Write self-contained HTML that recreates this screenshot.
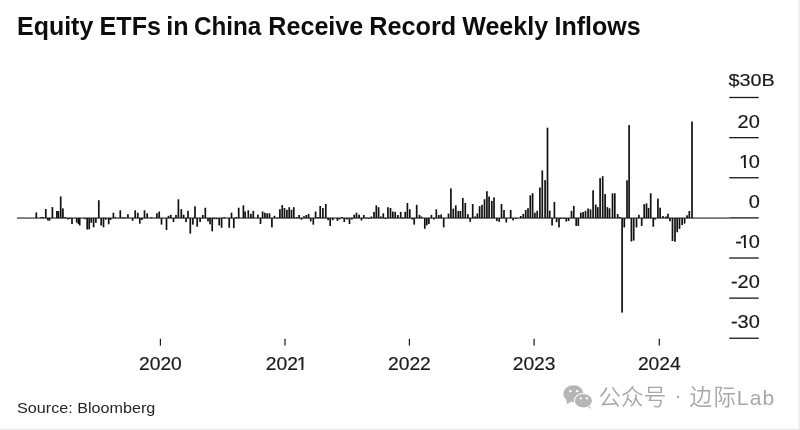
<!DOCTYPE html>
<html><head><meta charset="utf-8">
<style>
html,body{margin:0;padding:0;background:#fff;}
body{width:800px;height:430px;overflow:hidden;position:relative;}
svg{position:absolute;left:0;top:0;display:block;filter:blur(0.4px);}
.t{font-family:"Liberation Sans",Arial,sans-serif;}
.c{font-family:"Liberation Sans","Noto Sans CJK SC",sans-serif;}
</style></head><body>
<svg width="800" height="430" viewBox="0 0 800 430">
<defs>
<clipPath id="nofoot" clipPathUnits="userSpaceOnUse">
<rect x="-5" y="-20" width="20" height="17.75"/>
<rect x="4.32" y="-2.6" width="1.7" height="3.6"/>
</clipPath>
</defs>
<rect x="0" y="0" width="800" height="430" fill="#fff"/>
<g class="t" font-size="25" font-weight="bold" fill="#0d0d0d">
<text transform="translate(17.04,34.5) scale(0.9981,1)">Equity</text>
<text transform="translate(99.58,34.5) scale(1.0040,1)">ETFs</text>
<text transform="translate(166.33,34.5) scale(1.0052,1)">in</text>
<text transform="translate(193.92,34.5) scale(0.9716,1)">China</text>
<text transform="translate(268.33,34.5) scale(1.0051,1)">Receive</text>
<text transform="translate(369.22,34.5) scale(1.0101,1)">Record</text>
<text transform="translate(462.20,34.5) scale(1.0031,1)">Weekly</text>
<text transform="translate(554.43,34.5) scale(1.0022,1)">Inflows</text>
</g>
<g class="t" font-size="17.5" fill="#1a1a1a" stroke="#1a1a1a" stroke-width="0.18">
<text transform="translate(728.6,86.4) scale(1.15,1)" font-size="17.2">$30B</text>
<rect x="729.2" y="96.85" width="29.5" height="1.3" stroke="none"/>
<text transform="translate(759.80,127.65) scale(1.14,1)" text-anchor="end">20</text>
<rect x="729.2" y="137.00" width="29.5" height="1.3" stroke="none"/>
<text transform="translate(759.80,167.77) scale(1.14,1)" text-anchor="end">0</text>
<text transform="translate(739.10,167.77) scale(1.14,1)" clip-path="url(#nofoot)">1</text>
<rect x="729.2" y="177.12" width="29.5" height="1.3" stroke="none"/>
<text transform="translate(759.80,207.89) scale(1.14,1)" text-anchor="end">0</text>
<rect x="729.2" y="217.24" width="29.5" height="1.3" stroke="none"/>
<text transform="translate(759.80,248.01) scale(1.14,1)" text-anchor="end">0</text>
<text transform="translate(739.10,248.01) scale(1.14,1)" clip-path="url(#nofoot)">1</text>
<text transform="translate(735.30,248.01) scale(1.14,1)">-</text>
<rect x="729.2" y="257.36" width="29.5" height="1.3" stroke="none"/>
<text transform="translate(759.80,288.13) scale(1.14,1)" text-anchor="end">-20</text>
<rect x="729.2" y="297.48" width="29.5" height="1.3" stroke="none"/>
<text transform="translate(759.80,328.25) scale(1.14,1)" text-anchor="end">-30</text>
<rect x="729.2" y="337.60" width="29.5" height="1.3" stroke="none"/>

<rect x="159.80" y="338.8" width="1.2" height="6.8" stroke="none"/>
<text transform="translate(160.40,370.00) scale(1.1,1)" text-anchor="middle">2020</text>
<rect x="284.40" y="338.8" width="1.2" height="6.8" stroke="none"/>
<text transform="translate(265.80,370.00) scale(1.1,1)">202</text>
<text transform="translate(296.70,370.00) scale(1.1,1)" clip-path="url(#nofoot)">1</text>
<rect x="408.80" y="338.8" width="1.2" height="6.8" stroke="none"/>
<text transform="translate(409.40,370.00) scale(1.1,1)" text-anchor="middle">2022</text>
<rect x="533.50" y="338.8" width="1.2" height="6.8" stroke="none"/>
<text transform="translate(534.10,370.00) scale(1.1,1)" text-anchor="middle">2023</text>
<rect x="658.70" y="338.8" width="1.2" height="6.8" stroke="none"/>
<text transform="translate(659.30,370.00) scale(1.1,1)" text-anchor="middle">2024</text>

</g>
<rect x="17" y="217.45" width="712" height="1.2" fill="#333"/>
<g fill="#111">
<rect x="35.45" y="212.40" width="1.7" height="5.65"/>
<rect x="40.35" y="217.20" width="1.7" height="0.85"/>
<rect x="42.05" y="217.00" width="1.7" height="1.05"/>
<rect x="44.95" y="209.00" width="1.7" height="9.05"/>
<rect x="47.05" y="218.05" width="1.7" height="2.45"/>
<rect x="48.65" y="218.05" width="1.7" height="2.65"/>
<rect x="51.55" y="207.10" width="1.7" height="10.95"/>
<rect x="56.05" y="211.00" width="1.7" height="7.05"/>
<rect x="57.55" y="211.00" width="1.7" height="7.05"/>
<rect x="59.85" y="196.40" width="1.7" height="21.65"/>
<rect x="62.05" y="208.40" width="1.7" height="9.65"/>
<rect x="64.35" y="217.00" width="1.7" height="1.05"/>
<rect x="67.05" y="218.05" width="1.7" height="1.45"/>
<rect x="69.15" y="218.05" width="1.7" height="0.95"/>
<rect x="71.15" y="218.05" width="1.7" height="5.95"/>
<rect x="75.85" y="218.05" width="1.7" height="4.55"/>
<rect x="77.65" y="218.05" width="1.7" height="5.95"/>
<rect x="78.85" y="218.05" width="1.7" height="7.45"/>
<rect x="84.05" y="218.05" width="1.7" height="1.15"/>
<rect x="86.35" y="218.05" width="1.7" height="11.45"/>
<rect x="88.35" y="218.05" width="1.7" height="11.25"/>
<rect x="90.45" y="218.05" width="1.7" height="4.75"/>
<rect x="92.75" y="218.05" width="1.7" height="9.25"/>
<rect x="95.05" y="218.05" width="1.7" height="4.75"/>
<rect x="97.95" y="200.20" width="1.7" height="17.85"/>
<rect x="100.35" y="218.05" width="1.7" height="7.45"/>
<rect x="102.65" y="218.05" width="1.7" height="9.25"/>
<rect x="104.95" y="218.05" width="1.7" height="1.65"/>
<rect x="107.85" y="218.05" width="1.7" height="6.25"/>
<rect x="109.65" y="218.05" width="1.7" height="1.95"/>
<rect x="112.55" y="212.70" width="1.7" height="5.35"/>
<rect x="114.65" y="217.30" width="1.7" height="0.80"/>
<rect x="119.45" y="210.30" width="1.7" height="7.75"/>
<rect x="121.85" y="217.30" width="1.7" height="0.80"/>
<rect x="124.15" y="217.30" width="1.7" height="0.80"/>
<rect x="127.05" y="214.20" width="1.7" height="3.85"/>
<rect x="131.75" y="218.05" width="1.7" height="2.75"/>
<rect x="134.35" y="210.30" width="1.7" height="7.75"/>
<rect x="136.95" y="212.70" width="1.7" height="5.35"/>
<rect x="138.95" y="218.05" width="1.7" height="5.65"/>
<rect x="141.05" y="218.05" width="1.7" height="1.95"/>
<rect x="143.65" y="210.30" width="1.7" height="7.75"/>
<rect x="146.35" y="213.30" width="1.7" height="4.75"/>
<rect x="150.75" y="217.30" width="1.7" height="0.80"/>
<rect x="156.05" y="213.30" width="1.7" height="4.75"/>
<rect x="158.35" y="211.50" width="1.7" height="6.55"/>
<rect x="160.65" y="218.05" width="1.7" height="6.55"/>
<rect x="165.65" y="218.05" width="1.7" height="11.95"/>
<rect x="167.65" y="215.80" width="1.7" height="2.25"/>
<rect x="169.95" y="214.80" width="1.7" height="3.25"/>
<rect x="172.65" y="218.05" width="1.7" height="3.95"/>
<rect x="175.15" y="215.00" width="1.7" height="3.05"/>
<rect x="177.55" y="199.30" width="1.7" height="18.75"/>
<rect x="180.45" y="209.20" width="1.7" height="8.85"/>
<rect x="182.75" y="214.70" width="1.7" height="3.35"/>
<rect x="185.15" y="218.05" width="1.7" height="3.95"/>
<rect x="187.15" y="210.90" width="1.7" height="7.15"/>
<rect x="189.45" y="218.05" width="1.7" height="15.55"/>
<rect x="192.05" y="218.05" width="1.7" height="6.55"/>
<rect x="194.15" y="206.30" width="1.7" height="11.75"/>
<rect x="196.35" y="218.05" width="1.7" height="8.65"/>
<rect x="199.25" y="218.05" width="1.7" height="3.95"/>
<rect x="201.95" y="215.00" width="1.7" height="3.05"/>
<rect x="204.45" y="207.80" width="1.7" height="10.25"/>
<rect x="207.15" y="218.05" width="1.7" height="3.35"/>
<rect x="209.15" y="218.05" width="1.7" height="6.25"/>
<rect x="211.35" y="218.05" width="1.7" height="13.25"/>
<rect x="213.45" y="218.05" width="1.7" height="1.15"/>
<rect x="215.75" y="218.05" width="1.7" height="1.15"/>
<rect x="218.35" y="218.05" width="1.7" height="7.45"/>
<rect x="220.75" y="218.05" width="1.7" height="9.75"/>
<rect x="223.35" y="217.00" width="1.7" height="1.05"/>
<rect x="228.35" y="218.05" width="1.7" height="9.75"/>
<rect x="230.65" y="212.70" width="1.7" height="5.35"/>
<rect x="232.95" y="218.05" width="1.7" height="10.05"/>
<rect x="235.35" y="217.00" width="1.7" height="1.05"/>
<rect x="237.85" y="207.70" width="1.7" height="10.35"/>
<rect x="242.55" y="205.30" width="1.7" height="12.75"/>
<rect x="244.25" y="211.50" width="1.7" height="6.55"/>
<rect x="247.45" y="210.30" width="1.7" height="7.75"/>
<rect x="250.05" y="213.80" width="1.7" height="4.25"/>
<rect x="252.45" y="210.90" width="1.7" height="7.15"/>
<rect x="257.05" y="214.70" width="1.7" height="3.35"/>
<rect x="259.65" y="218.05" width="1.7" height="5.95"/>
<rect x="261.75" y="211.50" width="1.7" height="6.55"/>
<rect x="264.05" y="212.70" width="1.7" height="5.35"/>
<rect x="266.35" y="213.30" width="1.7" height="4.75"/>
<rect x="268.65" y="213.30" width="1.7" height="4.75"/>
<rect x="271.05" y="218.05" width="1.7" height="9.35"/>
<rect x="273.65" y="215.80" width="1.7" height="2.25"/>
<rect x="276.75" y="217.50" width="1.7" height="0.80"/>
<rect x="279.05" y="209.20" width="1.7" height="8.85"/>
<rect x="281.35" y="205.10" width="1.7" height="12.95"/>
<rect x="283.65" y="208.00" width="1.7" height="10.05"/>
<rect x="286.05" y="209.80" width="1.7" height="8.25"/>
<rect x="288.35" y="207.20" width="1.7" height="10.85"/>
<rect x="290.65" y="209.80" width="1.7" height="8.25"/>
<rect x="292.95" y="207.20" width="1.7" height="10.85"/>
<rect x="295.65" y="217.00" width="1.7" height="1.05"/>
<rect x="298.25" y="215.00" width="1.7" height="3.05"/>
<rect x="300.55" y="218.05" width="1.7" height="1.65"/>
<rect x="303.15" y="216.20" width="1.7" height="1.85"/>
<rect x="305.45" y="215.00" width="1.7" height="3.05"/>
<rect x="307.75" y="214.00" width="1.7" height="4.05"/>
<rect x="309.85" y="218.05" width="1.7" height="3.35"/>
<rect x="312.45" y="218.05" width="1.7" height="6.65"/>
<rect x="314.75" y="211.50" width="1.7" height="6.55"/>
<rect x="317.05" y="217.00" width="1.7" height="1.05"/>
<rect x="319.35" y="206.00" width="1.7" height="12.05"/>
<rect x="322.05" y="208.00" width="1.7" height="10.05"/>
<rect x="324.95" y="204.00" width="1.7" height="14.05"/>
<rect x="327.25" y="218.05" width="1.7" height="2.15"/>
<rect x="329.35" y="218.05" width="1.7" height="7.95"/>
<rect x="331.95" y="218.05" width="1.7" height="2.15"/>
<rect x="336.55" y="218.05" width="1.7" height="2.75"/>
<rect x="338.55" y="218.05" width="1.7" height="1.45"/>
<rect x="341.15" y="217.00" width="1.7" height="1.05"/>
<rect x="343.45" y="218.05" width="1.7" height="3.95"/>
<rect x="346.15" y="218.05" width="1.7" height="1.45"/>
<rect x="348.65" y="218.05" width="1.7" height="5.95"/>
<rect x="351.05" y="218.05" width="1.7" height="1.45"/>
<rect x="353.35" y="214.70" width="1.7" height="3.35"/>
<rect x="355.65" y="212.70" width="1.7" height="5.35"/>
<rect x="358.25" y="214.70" width="1.7" height="3.35"/>
<rect x="360.65" y="218.05" width="1.7" height="2.45"/>
<rect x="362.95" y="215.00" width="1.7" height="3.05"/>
<rect x="365.55" y="217.50" width="1.7" height="0.80"/>
<rect x="367.85" y="218.05" width="1.7" height="0.95"/>
<rect x="370.45" y="216.50" width="1.7" height="1.55"/>
<rect x="373.15" y="211.90" width="1.7" height="6.15"/>
<rect x="375.45" y="205.30" width="1.7" height="12.75"/>
<rect x="377.75" y="207.20" width="1.7" height="10.85"/>
<rect x="380.05" y="216.50" width="1.7" height="1.55"/>
<rect x="382.45" y="213.30" width="1.7" height="4.75"/>
<rect x="384.75" y="218.05" width="1.7" height="0.95"/>
<rect x="387.05" y="207.20" width="1.7" height="10.85"/>
<rect x="389.65" y="208.00" width="1.7" height="10.05"/>
<rect x="391.95" y="211.50" width="1.7" height="6.55"/>
<rect x="394.35" y="211.90" width="1.7" height="6.15"/>
<rect x="396.95" y="215.00" width="1.7" height="3.05"/>
<rect x="399.85" y="211.90" width="1.7" height="6.15"/>
<rect x="401.95" y="217.50" width="1.7" height="0.80"/>
<rect x="404.35" y="211.80" width="1.7" height="6.25"/>
<rect x="406.55" y="203.00" width="1.7" height="15.05"/>
<rect x="408.95" y="209.30" width="1.7" height="8.75"/>
<rect x="411.45" y="218.05" width="1.7" height="1.45"/>
<rect x="413.35" y="218.05" width="1.7" height="6.55"/>
<rect x="415.85" y="204.80" width="1.7" height="13.25"/>
<rect x="418.65" y="214.90" width="1.7" height="3.15"/>
<rect x="420.65" y="216.50" width="1.7" height="1.55"/>
<rect x="423.95" y="218.05" width="1.7" height="10.75"/>
<rect x="425.95" y="218.05" width="1.7" height="7.25"/>
<rect x="428.05" y="218.05" width="1.7" height="5.85"/>
<rect x="430.55" y="214.90" width="1.7" height="3.15"/>
<rect x="433.05" y="218.05" width="1.7" height="1.45"/>
<rect x="435.45" y="209.30" width="1.7" height="8.75"/>
<rect x="437.95" y="215.00" width="1.7" height="3.05"/>
<rect x="440.25" y="214.50" width="1.7" height="3.55"/>
<rect x="442.85" y="218.05" width="1.7" height="9.35"/>
<rect x="447.65" y="213.50" width="1.7" height="4.55"/>
<rect x="450.05" y="188.40" width="1.7" height="29.65"/>
<rect x="452.45" y="208.60" width="1.7" height="9.45"/>
<rect x="454.95" y="205.40" width="1.7" height="12.65"/>
<rect x="457.45" y="211.00" width="1.7" height="7.05"/>
<rect x="459.55" y="211.00" width="1.7" height="7.05"/>
<rect x="461.95" y="197.90" width="1.7" height="20.15"/>
<rect x="464.45" y="203.00" width="1.7" height="15.05"/>
<rect x="467.05" y="214.20" width="1.7" height="3.85"/>
<rect x="469.35" y="218.05" width="1.7" height="3.75"/>
<rect x="471.85" y="204.00" width="1.7" height="14.05"/>
<rect x="474.15" y="216.50" width="1.7" height="1.55"/>
<rect x="476.45" y="213.50" width="1.7" height="4.55"/>
<rect x="478.75" y="206.20" width="1.7" height="11.85"/>
<rect x="481.15" y="204.80" width="1.7" height="13.25"/>
<rect x="483.65" y="199.20" width="1.7" height="18.85"/>
<rect x="486.05" y="191.20" width="1.7" height="26.85"/>
<rect x="488.25" y="196.50" width="1.7" height="21.55"/>
<rect x="490.95" y="200.90" width="1.7" height="17.15"/>
<rect x="493.15" y="197.40" width="1.7" height="20.65"/>
<rect x="495.95" y="218.05" width="1.7" height="3.05"/>
<rect x="498.35" y="218.05" width="1.7" height="3.75"/>
<rect x="500.65" y="204.00" width="1.7" height="14.05"/>
<rect x="503.15" y="210.00" width="1.7" height="8.05"/>
<rect x="505.45" y="218.05" width="1.7" height="4.45"/>
<rect x="509.85" y="210.00" width="1.7" height="8.05"/>
<rect x="512.25" y="218.05" width="1.7" height="2.35"/>
<rect x="515.05" y="218.05" width="1.7" height="0.95"/>
<rect x="519.95" y="216.00" width="1.7" height="2.05"/>
<rect x="522.45" y="213.80" width="1.7" height="4.25"/>
<rect x="524.85" y="210.00" width="1.7" height="8.05"/>
<rect x="527.15" y="208.20" width="1.7" height="9.85"/>
<rect x="529.45" y="195.30" width="1.7" height="22.75"/>
<rect x="531.75" y="193.20" width="1.7" height="24.85"/>
<rect x="534.05" y="212.70" width="1.7" height="5.35"/>
<rect x="536.35" y="210.80" width="1.7" height="7.25"/>
<rect x="539.05" y="187.50" width="1.7" height="30.55"/>
<rect x="541.45" y="170.40" width="1.7" height="47.65"/>
<rect x="544.25" y="180.10" width="1.7" height="37.95"/>
<rect x="546.65" y="127.70" width="1.7" height="90.35"/>
<rect x="548.85" y="210.60" width="1.7" height="7.45"/>
<rect x="551.25" y="218.05" width="1.7" height="7.45"/>
<rect x="553.55" y="201.90" width="1.7" height="16.15"/>
<rect x="555.75" y="218.05" width="1.7" height="4.15"/>
<rect x="558.15" y="218.05" width="1.7" height="9.35"/>
<rect x="560.15" y="218.05" width="1.7" height="0.95"/>
<rect x="563.15" y="218.05" width="1.7" height="0.95"/>
<rect x="565.45" y="218.05" width="1.7" height="3.55"/>
<rect x="567.75" y="218.05" width="1.7" height="2.95"/>
<rect x="570.65" y="210.80" width="1.7" height="7.25"/>
<rect x="572.95" y="205.90" width="1.7" height="12.15"/>
<rect x="575.35" y="218.05" width="1.7" height="7.85"/>
<rect x="577.45" y="218.05" width="1.7" height="7.85"/>
<rect x="579.95" y="212.70" width="1.7" height="5.35"/>
<rect x="582.25" y="212.00" width="1.7" height="6.05"/>
<rect x="584.65" y="210.80" width="1.7" height="7.25"/>
<rect x="587.25" y="208.50" width="1.7" height="9.55"/>
<rect x="589.65" y="209.40" width="1.7" height="8.65"/>
<rect x="592.25" y="190.30" width="1.7" height="27.75"/>
<rect x="594.85" y="204.50" width="1.7" height="13.55"/>
<rect x="596.95" y="207.10" width="1.7" height="10.95"/>
<rect x="599.25" y="178.10" width="1.7" height="39.95"/>
<rect x="601.85" y="176.20" width="1.7" height="41.85"/>
<rect x="604.25" y="194.10" width="1.7" height="23.95"/>
<rect x="606.55" y="207.10" width="1.7" height="10.95"/>
<rect x="608.65" y="208.30" width="1.7" height="9.75"/>
<rect x="611.65" y="193.30" width="1.7" height="24.75"/>
<rect x="613.95" y="193.30" width="1.7" height="24.75"/>
<rect x="616.85" y="214.00" width="1.7" height="4.05"/>
<rect x="618.95" y="217.00" width="1.7" height="1.05"/>
<rect x="621.25" y="218.05" width="1.7" height="94.55"/>
<rect x="623.45" y="218.05" width="1.7" height="9.45"/>
<rect x="626.15" y="180.30" width="1.7" height="37.75"/>
<rect x="628.25" y="125.10" width="1.7" height="92.95"/>
<rect x="630.55" y="218.05" width="1.7" height="23.45"/>
<rect x="632.85" y="218.05" width="1.7" height="22.55"/>
<rect x="635.65" y="218.05" width="1.7" height="9.45"/>
<rect x="638.05" y="214.80" width="1.7" height="3.25"/>
<rect x="640.85" y="218.05" width="1.7" height="7.95"/>
<rect x="643.35" y="204.20" width="1.7" height="13.85"/>
<rect x="645.65" y="203.30" width="1.7" height="14.75"/>
<rect x="647.65" y="207.90" width="1.7" height="10.15"/>
<rect x="649.85" y="193.20" width="1.7" height="24.85"/>
<rect x="652.45" y="218.05" width="1.7" height="8.75"/>
<rect x="654.35" y="218.05" width="1.7" height="1.45"/>
<rect x="657.05" y="198.60" width="1.7" height="19.45"/>
<rect x="659.25" y="207.70" width="1.7" height="10.35"/>
<rect x="662.05" y="216.00" width="1.7" height="2.05"/>
<rect x="665.05" y="216.50" width="1.7" height="1.55"/>
<rect x="667.15" y="213.70" width="1.7" height="4.35"/>
<rect x="669.15" y="218.05" width="1.7" height="3.25"/>
<rect x="671.65" y="218.05" width="1.7" height="22.95"/>
<rect x="674.15" y="218.05" width="1.7" height="23.65"/>
<rect x="676.35" y="218.05" width="1.7" height="14.15"/>
<rect x="678.65" y="218.05" width="1.7" height="10.85"/>
<rect x="681.25" y="218.05" width="1.7" height="7.05"/>
<rect x="683.75" y="218.05" width="1.7" height="5.55"/>
<rect x="686.25" y="215.30" width="1.7" height="2.75"/>
<rect x="688.45" y="211.00" width="1.7" height="7.05"/>
<rect x="691.15" y="121.50" width="1.7" height="96.55"/>
</g>
<text class="t" transform="translate(17.1,413.1) scale(1.056,1)" font-size="15.3" fill="#262626">Source: Bloomberg</text>
<g fill="#b6b6b6">
<ellipse cx="573.4" cy="393.8" rx="10.1" ry="8.5"/>
<path d="M566.2 399.5 L567.2 404.3 L571.5 401.5 Z"/>
<path d="M586.5 405.5 L590.2 409 L590.8 403.5 Z"/>
<ellipse cx="583.4" cy="400.7" rx="9.1" ry="7.25" stroke="#fff" stroke-width="1.1"/>
</g>
<g fill="#fff">
<ellipse cx="570.4" cy="391.1" rx="1.4" ry="1.2"/><ellipse cx="577.1" cy="391.1" rx="1.4" ry="1.2"/>
<ellipse cx="580.9" cy="398.4" rx="1.2" ry="1.05"/><ellipse cx="586.9" cy="398.4" rx="1.2" ry="1.05"/>
</g>
<g class="c" fill="#a8a8a8" font-size="22.5" font-weight="350">
<text x="598.5" y="404.5">公</text>
<text x="621" y="404.5">众</text>
<text x="643.7" y="404.5">号</text>
<text x="674.5" y="402" font-size="21">·</text>
<text x="689.5" y="404.5">边</text>
<text x="713.5" y="404.5">际</text>
<text x="736.8" y="404.6" font-size="21" letter-spacing="1.2">Lab</text>
</g>
<rect x="0" y="428.6" width="800" height="1.4" fill="#ececec"/>
<rect x="798.6" y="0" width="1.4" height="430" fill="#ececec"/>
</svg>
</body></html>
